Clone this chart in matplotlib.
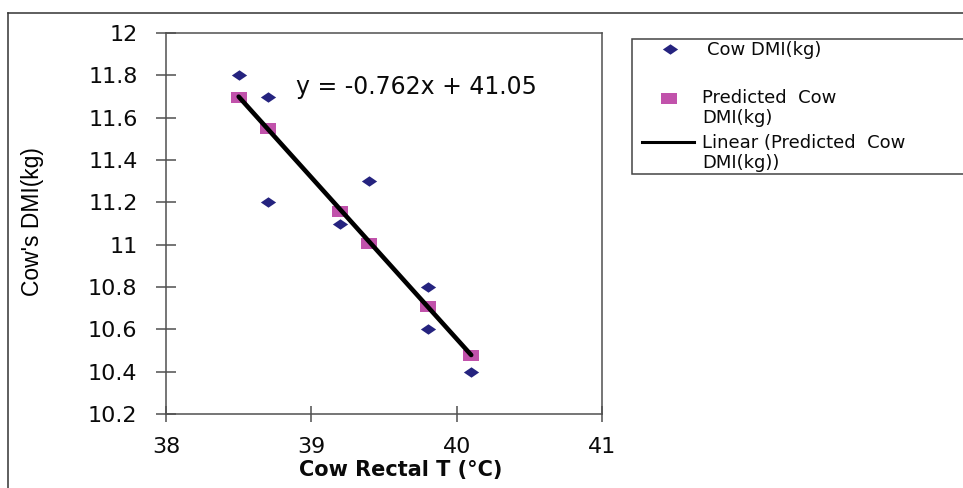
import numpy as np
import matplotlib
matplotlib.use("Agg")
import matplotlib.pyplot as plt
from matplotlib.lines import Line2D
from matplotlib.patches import Rectangle

# ---- data ----
temp_obs = [38.5, 38.7, 38.7, 39.2, 39.4, 39.8, 39.8, 40.1]
dmi_obs = [11.8, 11.7, 11.2, 11.1, 11.3, 10.8, 10.6, 10.4]
temp_pred = [38.5, 38.7, 39.2, 39.4, 39.8, 40.1]
dmi_pred = [11.70, 11.55, 11.16, 11.01, 10.71, 10.48]
xticks = [38, 39, 40, 41]
yticks = [10.2, 10.4, 10.6, 10.8, 11, 11.2, 11.4, 11.6, 11.8, 12]
ytick_labels = ["10.2", "10.4", "10.6", "10.8", "11", "11.2", "11.4", "11.6", "11.8", "12"]
legend_labels = ["Cow DMI(kg)", "Predicted  Cow\nDMI(kg)", "Linear (Predicted  Cow\nDMI(kg))"]
equation = "y = -0.762x + 41.05"

W, H = 963, 488
fig = plt.figure(figsize=(W / 100, H / 100), dpi=100)
fig.patch.set_facecolor("white")

def fx(px):
    return px / W

def fy(py):
    return 1 - py / H

ax = fig.add_axes([fx(166), fy(414), fx(602) - fx(166), fy(33) - fy(414)])

diamond = [(-1, 0), (0, 0.68), (1, 0), (0, -0.68), (-1, 0)]
rect = [(-1, -0.72), (1, -0.72), (1, 0.72), (-1, 0.72), (-1, -0.72)]
navy = "#25237f"
magenta = "#c152ab"
txt = "#0a0a0a"

ax.plot(temp_obs, dmi_obs, linestyle="none", marker=diamond, markersize=11,
        color=navy, markeredgewidth=0, zorder=3)
ax.plot(temp_pred, dmi_pred, linestyle="none", marker=rect, markersize=11,
        color=magenta, markeredgewidth=0, zorder=3)
coef = np.polyfit(temp_pred, dmi_pred, 1)
xl = np.array([min(temp_pred), max(temp_pred)])
ax.plot(xl, np.polyval(coef, xl), color="black", linewidth=3.3, solid_capstyle="round", zorder=4)

ax.set_xlim(38, 41)
ax.set_ylim(10.2, 12)
ax.set_xticks(xticks)
ax.set_xticklabels([str(t) for t in xticks])
ax.set_yticks(yticks)
ax.set_yticklabels(ytick_labels)

spine_color = "#505050"
for s in ax.spines.values():
    s.set_color(spine_color)
    s.set_linewidth(1.1)

ax.tick_params(axis="y", direction="inout", length=15, width=1.1, color=spine_color,
               pad=13, labelsize=16, labelcolor=txt)
ax.tick_params(axis="x", direction="inout", length=11, width=1.1, color=spine_color,
               pad=11, labelsize=16, labelcolor=txt)
for lab in ax.get_xticklabels() + ax.get_yticklabels():
    lab.set_family("DejaVu Sans")

fig.text(fx(296), fy(87), equation, fontsize=17, family="DejaVu Sans",
         ha="left", va="center", color=txt)

fig.text(fx(33), fy(222), "Cow's DMI(kg)", rotation=90, fontsize=16.5,
         family="Liberation Sans", ha="center", va="center", color="black")
fig.text(fx(401), fy(470), "Cow Rectal T (°C)", fontsize=15, fontweight="bold",
         family="DejaVu Sans", ha="center", va="center", color=txt)

# outer frame (top and left edges visible)
fig.add_artist(Line2D([fx(8), fx(8)], [fy(488) - 0.01, fy(13)], color="#333333", linewidth=1.1))
fig.add_artist(Line2D([fx(8), 1.01], [fy(13), fy(13)], color="#333333", linewidth=1.1))

# legend (manual)
fig.add_artist(Rectangle((fx(632), fy(174)), fx(975) - fx(632), fy(39) - fy(174),
                         transform=fig.transFigure, facecolor="white",
                         edgecolor="#444444", linewidth=1.1))
fig.add_artist(Line2D([fx(670)], [fy(49)], marker=diamond, markersize=11,
                      color=navy, markeredgewidth=0, linestyle="none"))
fig.add_artist(Line2D([fx(669)], [fy(98)], marker=rect, markersize=11,
                      color=magenta, markeredgewidth=0, linestyle="none"))
fig.add_artist(Line2D([fx(642), fx(694)], [fy(142), fy(142)], color="black", linewidth=2.2))
leg_fs = 13
fig.text(fx(707), fy(50), legend_labels[0], fontsize=leg_fs, family="DejaVu Sans",
         ha="left", va="center", color=txt)
fig.text(fx(702), fy(108), legend_labels[1], fontsize=leg_fs, family="DejaVu Sans",
         ha="left", va="center", color=txt, linespacing=1.15)
fig.text(fx(702), fy(153), legend_labels[2], fontsize=leg_fs, family="DejaVu Sans",
         ha="left", va="center", color=txt, linespacing=1.15)

fig.savefig("out.png", dpi=100)
